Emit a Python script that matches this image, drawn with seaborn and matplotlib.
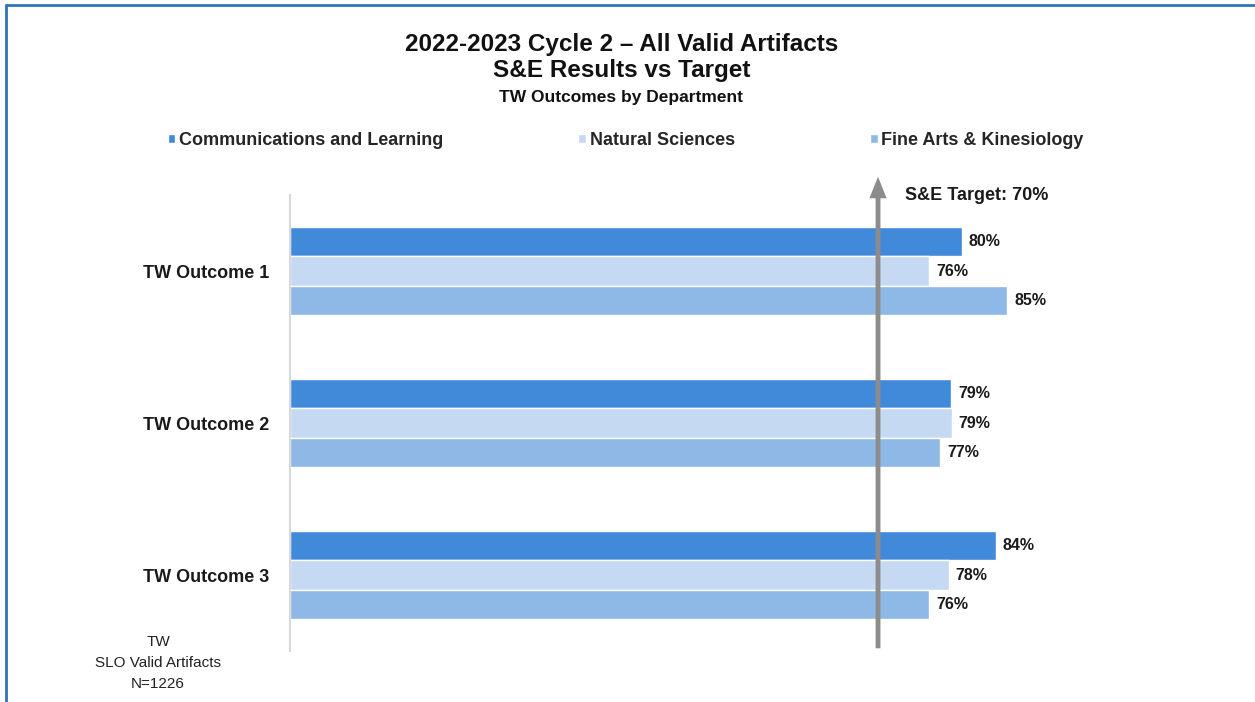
import matplotlib
matplotlib.use("Agg")
import matplotlib.pyplot as plt
import seaborn as sns
import pandas as pd
from matplotlib.lines import Line2D

# data (bar lengths in %, labels are the rounded figures shown)
outcomes = ["TW Outcome 1", "TW Outcome 2", "TW Outcome 3"]
departments = ["Communications and Learning", "Natural Sciences", "Fine Arts & Kinesiology"]
comm_learning = [80.0, 78.7, 84.0]
natural_sciences = [76.1, 78.8, 78.4]
fine_arts_kin = [85.4, 77.4, 76.1]
target = 70
dept_colors = ["#418AD9", "#C5DAF2", "#8EB9E6"]

df = pd.DataFrame({
    "outcome": outcomes * 3,
    "dept": [d for d in departments for _ in outcomes],
    "value": comm_learning + natural_sciences + fine_arts_kin,
})

sns.set_theme(style="white")
plt.rcParams["font.family"] = ["Liberation Sans", "DejaVu Sans"]

fig = plt.figure(figsize=(12.55, 7.02), dpi=100)
ax = fig.add_axes([0.2311, 0.0726, 0.6693, 0.6496])

sns.barplot(data=df, y="outcome", x="value", hue="dept", order=outcomes,
            hue_order=departments, palette=dept_colors, orient="h",
            width=0.575, saturation=1, ax=ax, legend=True)

ax.set_xlim(0, 100)
ax.set_ylim(2.5, -0.5)
ax.set_xlabel("")
ax.set_ylabel("")
ax.set_xticks([])
ax.tick_params(axis="y", length=0, pad=15)
for lab in ax.get_yticklabels():
    lab.set_fontsize(13)
    lab.set_fontweight("bold")
    lab.set_color("#1a1a1a")
for side in ["top", "right", "bottom"]:
    ax.spines[side].set_visible(False)
ax.spines["left"].set_color("#D9D9D9")
ax.spines["left"].set_linewidth(1.5)

# value labels
for cont in ax.containers:
    vals = [b.get_width() for b in cont]
    ax.bar_label(cont, labels=[f"{round(v)}%" for v in vals], padding=5,
                 fontsize=11.5, fontweight="bold", color="#1a1a1a")

# target arrow
ax.annotate("", xy=(target, 1.04), xytext=(target, 0.006),
            xycoords=("data", "axes fraction"), textcoords=("data", "axes fraction"),
            arrowprops=dict(arrowstyle="-|>,head_length=0.75,head_width=0.3",
                            color="#8C8C8C", lw=3.5, shrinkA=0, shrinkB=0,
                            joinstyle="miter", capstyle="butt"),
            annotation_clip=False)
ax.text(73.2, 0.998, f"S&E Target: {target}%", transform=ax.get_xaxis_transform(),
        fontsize=13, fontweight="bold", color="#1a1a1a", va="center", ha="left")

# legend
handles, labels = ax.get_legend_handles_labels()
ax.get_legend().remove()
fig.legend(handles, labels, loc="center", bbox_to_anchor=(0.4985, 0.80), ncol=3,
           frameon=False, handlelength=0.42, handleheight=0.42, handletextpad=0.2,
           columnspacing=7.5, prop={"size": 13, "weight": "bold"})

# titles
fig.text(0.4952, 0.937, "2022-2023 Cycle 2 – All Valid Artifacts", ha="center", va="center",
         fontsize=17.5, fontweight="bold", color="#111111")
fig.text(0.4952, 0.899, "S&E Results vs Target", ha="center", va="center",
         fontsize=17.5, fontweight="bold", color="#111111")
fig.text(0.4952, 0.861, "TW Outcomes by Department", ha="center", va="center",
         fontsize=12.5, fontweight="bold", color="#111111")

# footnote
fig.text(0.126, 0.0556, "TW\nSLO Valid Artifacts\nN=1226", ha="center", va="center",
         fontsize=11, color="#222222", linespacing=1.6)

# blue frame (top and left edges)
fig.add_artist(Line2D([6 / 1255, 1], [1 - 5 / 702, 1 - 5 / 702], transform=fig.transFigure,
                      color="#2E75B6", lw=2))
fig.add_artist(Line2D([6 / 1255, 6 / 1255], [0, 1 - 5 / 702], transform=fig.transFigure,
                      color="#2E75B6", lw=2))

fig.savefig("out.png", dpi=100)
